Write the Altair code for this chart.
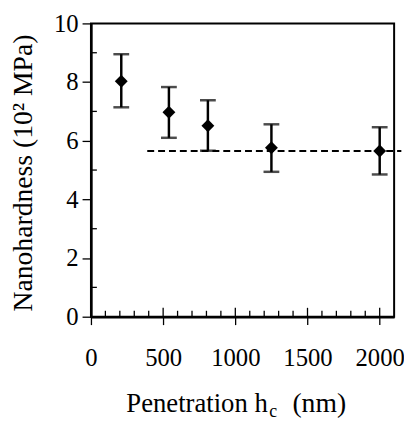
import altair as alt
import pandas as pd

# data
pen = [210, 540, 810, 1250, 2000]
hard = [8.03, 6.97, 6.51, 5.76, 5.65]
hard_hi = [8.95, 7.83, 7.38, 6.56, 6.46]
hard_lo = [7.14, 6.10, 5.66, 4.94, 4.85]
dash_x = [390, 2150]
dash_y = [5.65, 5.65]
x_major = [0, 500, 1000, 1500, 2000]
x_minor = [100, 200, 300, 400, 600, 700, 800, 900, 1100, 1200, 1300, 1400,
           1600, 1700, 1800, 1900]
y_major = [0, 2, 4, 6, 8, 10]
y_minor = [1, 3, 5, 7, 9]

FONT = "Liberation Serif"
W, H = 307, 297

df = pd.DataFrame({"x": pen, "y": hard, "hi": hard_hi, "lo": hard_lo})
dfd = pd.DataFrame({"x": dash_x, "y": dash_y})
dfxmaj = pd.DataFrame({"x": x_major})
dfxmin = pd.DataFrame({"x": x_minor})
dfymin = pd.DataFrame({"y": y_minor})

xs = alt.Scale(domain=[0, 2100], nice=False, zero=False)
ys = alt.Scale(domain=[0, 10], nice=False, zero=False)

xaxis = alt.Axis(
    values=x_major, format="d", tickSize=8, tickWidth=1.3, tickColor="black",
    domainWidth=2.5, domainColor="black", labelFont=FONT, labelFontSize=25,
    labelColor="black", labelBaseline="alphabetic", labelPadding=41,
    labelFlush=False, grid=False, title=None)
yaxis = alt.Axis(
    values=y_major, format="d", tickSize=9, tickWidth=1.3, tickColor="black",
    domainWidth=2.5, domainColor="black", labelFont=FONT, labelFontSize=25,
    labelColor="black", labelPadding=4, labelFlush=False, grid=False,
    title="Nanohardness (10² MPa)", titleFont=FONT, titleFontSize=28,
    titleFontWeight="normal", titleColor="black", titleAngle=270,
    titleBaseline="alphabetic", titleAlign="center", titleX=-60, titleY=151)


def X(f):
    return alt.X(f, scale=xs, axis=xaxis, title=None)


def Y(f):
    return alt.Y(f, scale=ys, axis=yaxis, title="Nanohardness (10² MPa)")


points = alt.Chart(df).mark_point(
    shape="diamond", filled=True, color="black", size=170, opacity=1
).encode(x=X("x:Q"), y=Y("y:Q"))

bars = alt.Chart(df).mark_rule(color="black", strokeWidth=2.5).encode(
    x=X("x:Q"), y=Y("lo:Q"), y2="hi:Q")
cap_hi = alt.Chart(df).mark_tick(color="black", thickness=2.5, size=16, orient="horizontal").encode(
    x=X("x:Q"), y=Y("hi:Q"))
cap_lo = alt.Chart(df).mark_tick(color="black", thickness=2.5, size=16, orient="horizontal").encode(
    x=X("x:Q"), y=Y("lo:Q"))
dash = alt.Chart(dfd).mark_line(color="black", strokeWidth=1.8, strokeDash=[7, 4]).encode(
    x=X("x:Q"), y=Y("y:Q"))

xmaj_in = alt.Chart(dfxmaj).mark_rule(color="black", strokeWidth=1.3).encode(
    x=X("x:Q"), y=alt.value(H), y2=alt.value(H - 9))
xmin_in = alt.Chart(dfxmin).mark_rule(color="black", strokeWidth=1.3).encode(
    x=X("x:Q"), y=alt.value(H), y2=alt.value(H - 6))
ymin_in = alt.Chart(dfymin).mark_rule(color="black", strokeWidth=1.3).encode(
    y=Y("y:Q"), x=alt.value(0), x2=alt.value(6))

t1 = alt.Chart(pd.DataFrame({"t": ["Penetration h"]})).mark_text(
    font=FONT, fontSize=27, color="black", align="right", baseline="alphabetic"
).encode(text="t:N", x=alt.value(179), y=alt.value(393))
t2 = alt.Chart(pd.DataFrame({"t": ["c"]})).mark_text(
    font=FONT, fontSize=18, color="black", align="left", baseline="alphabetic"
).encode(text="t:N", x=alt.value(180.5), y=alt.value(399))
t3 = alt.Chart(pd.DataFrame({"t": ["(nm)"]})).mark_text(
    font=FONT, fontSize=28, color="black", align="left", baseline="alphabetic"
).encode(text="t:N", x=alt.value(204), y=alt.value(393))

chart = alt.layer(
    points, dash, xmaj_in, xmin_in, ymin_in, bars, cap_hi, cap_lo, t1, t2, t3
).properties(
    width=W, height=H, background="white",
    autosize=alt.AutoSizeParams(type="none"),
    padding={"left": 84, "top": 13, "right": 10, "bottom": 103},
).configure_view(stroke="black", strokeWidth=2)

chart.save("out.html", embed_options={"renderer": "svg", "actions": False})
